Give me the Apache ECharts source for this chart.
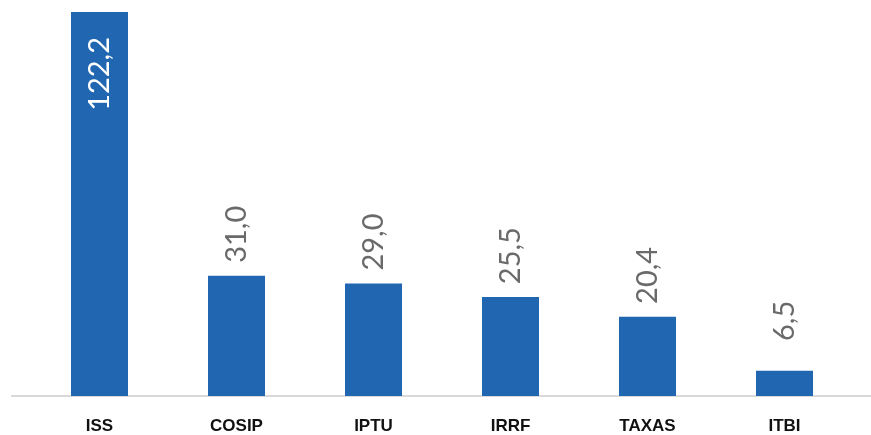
<!DOCTYPE html>
<html><head><meta charset="utf-8">
<script src="https://cdn.jsdelivr.net/npm/echarts@6/dist/echarts.min.js"></script>
<style>html,body{margin:0;padding:0;background:#fff}#c{width:871px;height:435px}</style>
</head><body><div id="c"></div>
<script>
const categories = ['ISS', 'COSIP', 'IPTU', 'IRRF', 'TAXAS', 'ITBI'];
const values = [122.2, 31.0, 29.0, 25.5, 20.4, 6.5];
const axisMax = 99;

const fmt = v => v.toFixed(1).replace('.', ',');
const chart = echarts.init(document.getElementById('c'));
const labelFont = { fontSize: 29, fontFamily: 'Lato', fontWeight: 'normal', fontStyle: 'normal' };
chart.setOption({
  animation: false,
  grid: { left: 31, right: 18, top: 12, bottom: 39 },
  graphic: [{
    type: 'line', z: -1,
    shape: { x1: 11, y1: 396, x2: 871, y2: 396 },
    style: { stroke: '#d9d9d9', lineWidth: 2 }
  }],
  xAxis: {
    type: 'category', data: categories,
    axisLine: { show: false },
    axisTick: { show: false },
    axisLabel: { color: '#111', fontFamily: 'Liberation Sans', fontWeight: 'bold', fontSize: 17, margin: 22 }
  },
  yAxis: { type: 'value', min: 0, max: axisMax, show: false, splitLine: { show: false } },
  series: [{
    type: 'bar', barWidth: 57, clip: true,
    itemStyle: { color: '#2166b0' },
    data: values.map(v => {
      const inside = v > axisMax;
      return {
        value: v,
        label: Object.assign(inside ? {
          show: true, position: 'insideTop', rotate: 90, align: 'right', verticalAlign: 'middle',
          distance: 25, color: '#ffffff'
        } : {
          show: true, position: 'top', rotate: 90, align: 'right', verticalAlign: 'middle',
          distance: 70, color: '#6a6a6a'
        }, labelFont, { formatter: p => fmt(p.value) })
      };
    })
  }]
});
</script></body></html>
